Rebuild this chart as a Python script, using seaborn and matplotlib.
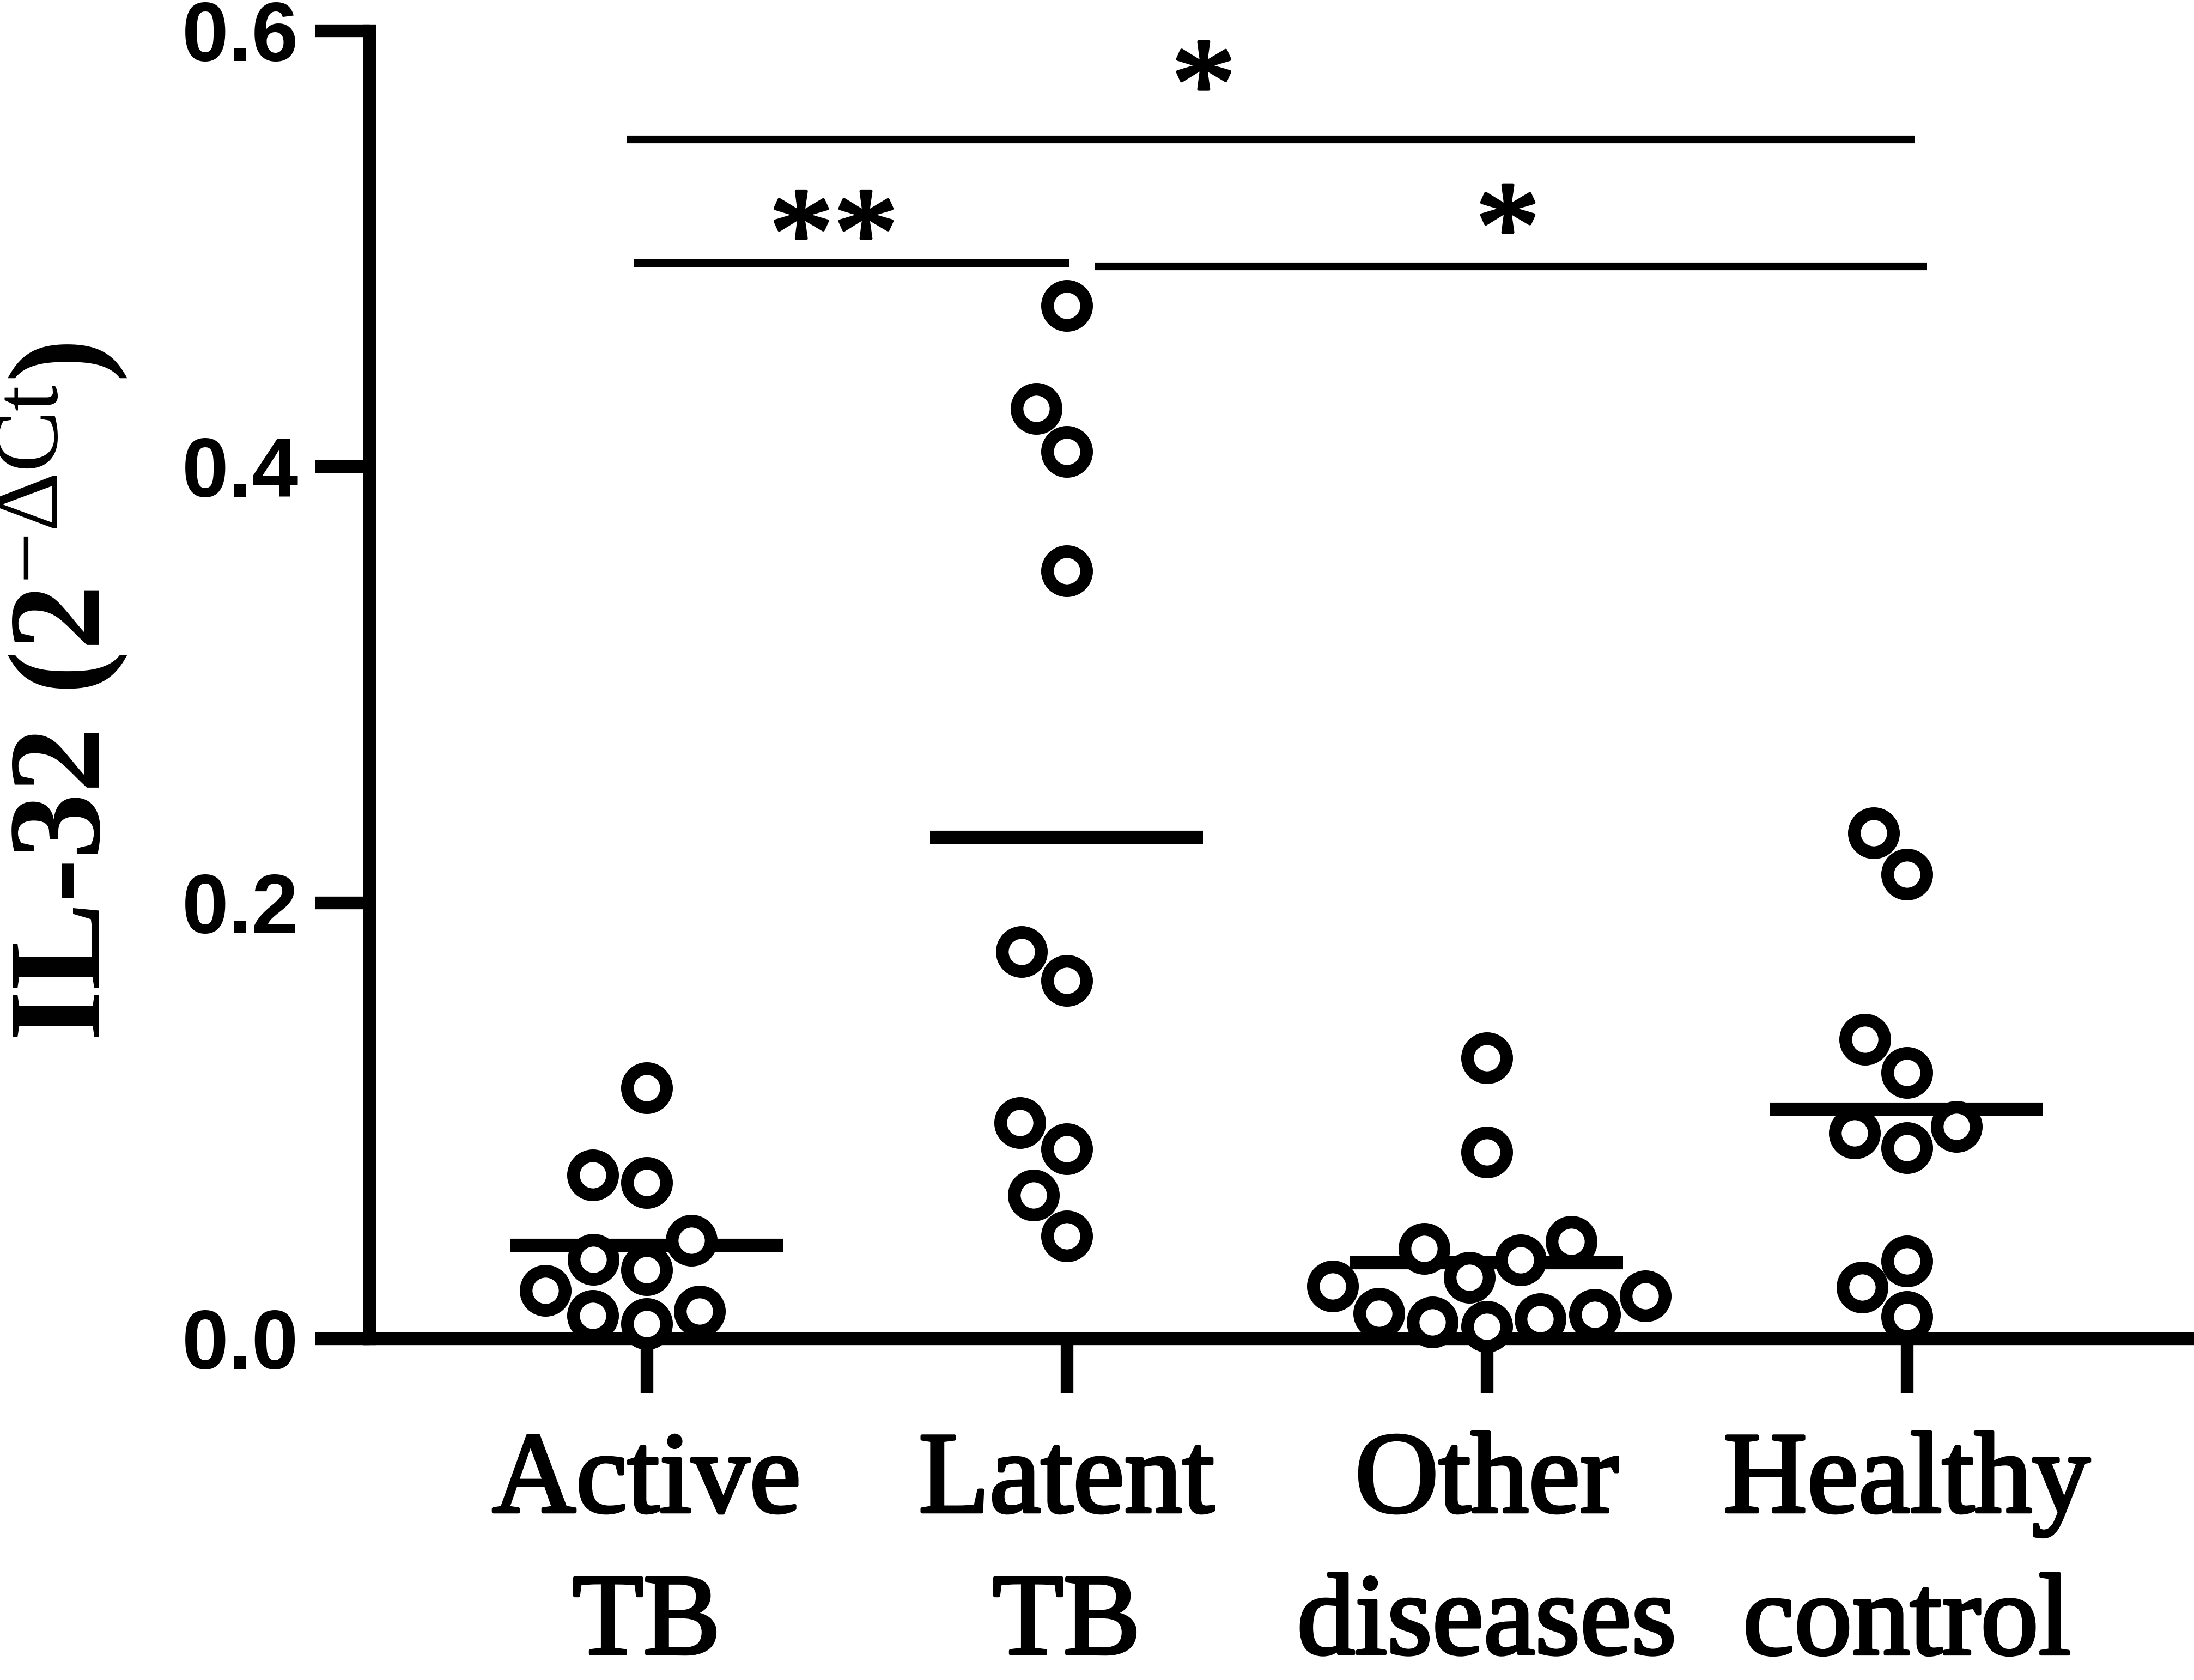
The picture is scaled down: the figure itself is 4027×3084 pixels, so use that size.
import numpy as np
import pandas as pd
import seaborn as sns
import matplotlib.pyplot as plt
import matplotlib.patheffects as pe

# IL-32 expression (2^-dCt) per group
groups = ['Active\nTB', 'Latent\nTB', 'Other\ndiseases', 'Healthy\ncontrol']
active_tb = [0.1150, 0.0715, 0.0751, 0.0316, 0.0220, 0.0362, 0.0451, 0.0067, 0.0106, 0.0125]
latent_tb = [0.4738, 0.4266, 0.4069, 0.3520, 0.1774, 0.1643, 0.0990, 0.0870, 0.0658, 0.0470]
other_diseases = [0.1286, 0.0855, 0.0412, 0.0446, 0.0281, 0.0196, 0.0360, 0.0241,
                  0.0076, 0.0091, 0.0115, 0.0056, 0.0110]
healthy_control = [0.2318, 0.2129, 0.1371, 0.1220, 0.0941, 0.0971, 0.0875, 0.0356, 0.0234, 0.0100]

yticks = [0.0, 0.2, 0.4, 0.6]
ytick_labels = ['0.0', '0.2', '0.4', '0.6']

# significance bars: x from, x to, bar height, stars, star x, star baseline
sig_bars = [
    (-0.047, 3.018, 0.550, '*', 1.326, 0.556),
    (-0.031, 1.005, 0.4933, '**', 0.445, 0.4875),
    (1.067, 3.048, 0.4918, '*', 2.05, 0.4903),
]


def build_frame():
    series = [active_tb, latent_tb, other_diseases, healthy_control]
    df = pd.DataFrame()
    df['group'] = np.repeat(groups, [len(s) for s in series])
    df['value'] = np.concatenate(series)
    return df


def main():
    sns.set_style('ticks')
    plt.rcParams['font.family'] = ['Liberation Serif', 'DejaVu Serif']
    plt.rcParams['mathtext.fontset'] = 'custom'
    plt.rcParams['mathtext.rm'] = 'Liberation Serif'
    plt.rcParams['mathtext.it'] = 'Liberation Serif:italic'
    plt.rcParams['mathtext.bf'] = 'Liberation Serif:bold'
    for key in ['text.color', 'axes.edgecolor', 'axes.labelcolor', 'xtick.color', 'ytick.color']:
        plt.rcParams[key] = 'black'

    df = build_frame()

    fig = plt.figure(figsize=(4028 / 300, 3084 / 300), dpi=300, facecolor='white')
    ax = fig.add_axes([0.1683, 0.2033, 0.8317, 0.7785])

    sns.swarmplot(data=df, x='group', y='value', order=groups, size=17.2,
                  color='white', edgecolor='black', linewidth=5.6, ax=ax,
                  zorder=3, clip_on=False)

    means = df.groupby('group', sort=False)['value'].mean().reindex(groups)
    pos = np.arange(len(groups))
    ax.hlines(means.values, pos - 0.325, pos + 0.325, color='black', lw=5.8, zorder=2)

    heavy = [pe.withStroke(linewidth=1.4, foreground='black')]
    for x0, x1, h, stars, xt, yt in sig_bars:
        ax.plot([x0, x1], [h, h], color='black', lw=3.4, solid_capstyle='butt', clip_on=False)
        ax.text(xt, yt, stars, ha='center', va='baseline', fontsize=57,
                fontfamily='Liberation Serif', clip_on=False, path_effects=heavy)

    ax.set_xlim(-0.66, 3.685)
    ax.set_ylim(0, 0.6)
    ax.set_yticks(yticks)
    ax.set_yticklabels(ytick_labels, fontfamily='Liberation Sans', fontweight='bold', fontsize=37)
    ax.set_xlabel('')
    ax.set_ylabel('')

    ax.tick_params(axis='both', length=24, width=5.6, color='black', direction='out')
    ax.tick_params(axis='y', pad=7)
    ax.tick_params(axis='x', pad=17, labelsize=51)
    for lbl in ax.get_xticklabels():
        lbl.set_linespacing(1.46)
        lbl.set_path_effects(heavy)

    sns.despine(ax=ax)
    ax.spines['left'].set_linewidth(5.6)
    ax.spines['bottom'].set_linewidth(5.6)

    fig.text(0.0285, 0.588, r'IL-32 ($\mathbf{2}^{\mathrm{-\Delta Ct}}$)', rotation=90,
             ha='center', va='center', fontsize=58, fontweight='bold')

    fig.savefig('out.png', dpi=300, facecolor='white')
    plt.close(fig)


if __name__ == '__main__':
    main()
